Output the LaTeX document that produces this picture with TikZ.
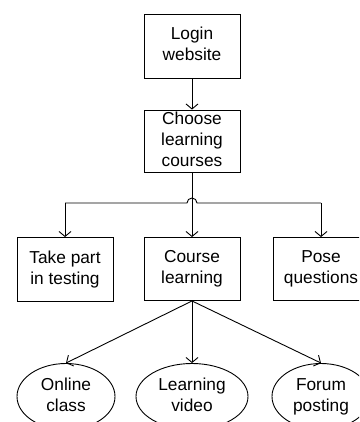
\documentclass[tikz,border=0pt]{standalone}
\usepackage{fontspec}
\setmainfont{Liberation Sans}
\usetikzlibrary{arrows.meta,shapes.geometric}
\newcommand{\gdepth}{\vphantom{g}}
\begin{document}
\begin{tikzpicture}[x=1pt,y=-1pt,
  lbl/.style={font=\fontsize{17.3}{21}\selectfont, align=center, draw, line width=0.9pt, inner sep=0pt},
  box/.style={lbl, rectangle, minimum width=96pt, minimum height=64pt},
  oval/.style={lbl, ellipse, minimum height=66pt},
  conn/.style={line width=0.9pt, -{Straight Barb[length=5pt,width=12pt]}},
  plain/.style={line width=0.9pt}]
\useasboundingbox (0,0) rectangle (359,422);
\clip (0,0) rectangle (359,422);
\node[box] (login) at (192,46) {Login\\website\gdepth};
\node[box, minimum height=62pt] (choose) at (192,141) {Choose\\learning\\courses\gdepth};
\node[box] (take) at (65,269.5) {Take part\\in testing\gdepth};
\node[box, minimum height=63pt] (course) at (192,269) {Course\\learning\gdepth};
\node[box, minimum height=63pt] (pose) at (321,269) {Pose\\questions\gdepth};
\node[oval, minimum width=98pt] (online) at (66,396.5) {Online\\class\gdepth};
\node[oval, minimum width=112pt] (video) at (192,396.5) {Learning\\video\gdepth};
\node[oval, minimum width=98pt] (forum) at (321,396.5) {Forum\\posting\gdepth};
\coordinate (hl) at (65,203);
\coordinate (hr) at (321,203);
\coordinate (hopa) at (187,203);
\draw[conn] (login) -- (choose);
\draw[conn] (choose) -- (course);
\draw[plain] (hl) -- (hopa) arc[start angle=180, end angle=360, radius=5] -- (hr);
\draw[conn] (hl) -- (take);
\draw[conn] (hr) -- (pose);
\draw[conn] (course.south) -- (online.north);
\draw[conn] (course.south) -- (video.north);
\draw[conn] (course.south) -- (forum.north);
\end{tikzpicture}
\end{document}
